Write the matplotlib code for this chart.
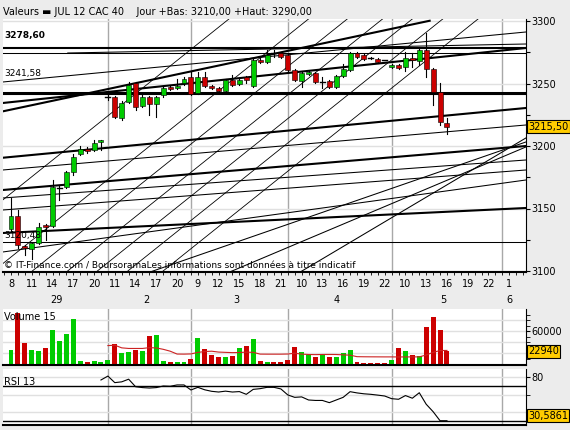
import matplotlib
matplotlib.use("Agg")
import matplotlib.pyplot as plt
from matplotlib.patches import Rectangle
from matplotlib.transforms import blended_transform_factory, IdentityTransform
import pandas as pd

# hourly candles, one slot per candle
opens = [3133.6, 3144.0, 3120.0, 3117.6, 3122.4, 3136.8, 3136.0, 3166.2, 3167.2, 3179.2,
         3193.6, 3197.6, 3196.8, 3203.2, 3239.0, 3239.2, 3222.4, 3235.2, 3250.4, 3232.0,
         3239.2, 3233.6, 3240.8, 3247.2, 3246.4, 3250.4, 3255.2, 3242.4, 3255.2, 3248.0,
         3246.4, 3244.0, 3252.8, 3249.6, 3255.2, 3248.0, 3268.8, 3267.2, 3274.4, 3274.4,
         3272.8, 3260.8, 3252.0, 3257.6, 3258.4, 3251.0, 3252.0, 3247.2, 3256.0, 3260.8,
         3274.4, 3272.8, 3270.6, 3269.6, 3268.9, 3263.2, 3264.8, 3263.2, 3270.4, 3268.0,
         3276.8, 3261.6, 3243.2, 3218.4]
highs = [3158.4, 3148.8, 3120.8, 3122.4, 3138.4, 3137.6, 3172.8, 3168.0, 3180.0, 3193.6,
         3200.0, 3199.2, 3204.8, 3204.8, 3240.8, 3240.0, 3236.0, 3251.2, 3251.2, 3240.8,
         3240.0, 3240.0, 3248.0, 3248.0, 3253.6, 3255.2, 3259.2, 3259.2, 3259.2, 3248.8,
         3247.2, 3253.6, 3256.8, 3253.6, 3256.0, 3269.6, 3271.2, 3276.8, 3276.8, 3275.2,
         3273.6, 3261.6, 3260.0, 3260.0, 3259.2, 3255.2, 3252.8, 3256.8, 3265.6, 3275.2,
         3275.2, 3273.6, 3271.2, 3270.4, 3269.0, 3265.6, 3265.6, 3275.2, 3274.4, 3277.6,
         3290.4, 3262.4, 3250.4, 3222.4]
lows = [3132.0, 3118.4, 3112.8, 3109.6, 3121.6, 3125.0, 3135.2, 3156.8, 3166.4, 3176.8,
        3192.8, 3194.4, 3196.0, 3196.8, 3236.8, 3222.4, 3220.8, 3234.4, 3228.8, 3231.2,
        3224.8, 3223.2, 3239.2, 3244.8, 3245.6, 3248.8, 3240.8, 3241.6, 3247.2, 3245.6,
        3243.2, 3243.2, 3248.0, 3248.8, 3250.4, 3247.2, 3266.4, 3266.4, 3271.2, 3270.4,
        3260.0, 3252.0, 3247.2, 3256.8, 3250.4, 3246.4, 3246.4, 3246.4, 3255.2, 3260.0,
        3270.4, 3268.8, 3269.6, 3266.4, 3268.6, 3262.4, 3261.6, 3260.0, 3263.2, 3264.8,
        3255.2, 3232.8, 3216.8, 3210.0]
closes = [3144.0, 3120.8, 3118.4, 3122.4, 3135.2, 3135.2, 3167.2, 3166.4, 3179.2, 3191.2,
          3197.6, 3196.0, 3202.4, 3204.8, 3239.2, 3223.2, 3234.4, 3248.8, 3231.2, 3239.2,
          3233.6, 3239.2, 3246.4, 3245.6, 3248.0, 3253.6, 3241.6, 3255.2, 3248.0, 3246.4,
          3244.0, 3252.8, 3248.8, 3252.8, 3252.8, 3268.8, 3267.2, 3272.8, 3274.2, 3271.2,
          3260.8, 3252.8, 3258.4, 3259.2, 3251.2, 3251.2, 3247.2, 3256.0, 3261.6, 3274.4,
          3271.2, 3269.6, 3270.4, 3267.2, 3268.8, 3264.8, 3262.4, 3270.4, 3268.8, 3276.8,
          3261.6, 3243.2, 3219.2, 3215.5]
volumes = [25500, 93000, 38000, 25500, 23600, 29600, 61800, 42400, 54500, 81800,
           5500, 4200, 5500, 3600, 7300, 36400, 20500, 21800, 25500, 23600,
           51500, 53300, 5500, 3600, 3600, 3600, 9100, 47300, 27300, 16400,
           12700, 12700, 14500, 29100, 33300, 45500, 5500, 4200, 3600, 3600,
           7300, 31500, 22400, 16400, 13300, 16400, 13300, 13300, 19400, 25500,
           4200, 2700, 2700, 2700, 2700, 7300, 29600, 23600, 16400, 14500,
           67800, 86000, 61800, 22940]
# RSI 13, from slot 13 onwards
rsi_start = 13
rsi = [76.6, 81.0, 73.6, 74.5, 77.5, 69.0, 68.0, 67.5, 68.0, 69.8,
       69.5, 71.0, 71.0, 65.3, 68.3, 65.5, 63.8, 63.0, 64.0, 63.0,
       63.5, 60.4, 66.0, 66.8, 68.3, 68.3, 66.5, 59.7, 57.0, 57.5,
       54.0, 53.5, 53.5, 51.0, 54.0, 57.0, 63.4, 62.0, 61.0, 60.4,
       59.5, 58.5, 55.5, 54.8, 59.0, 56.0, 62.2, 49.2, 40.8, 30.6, 30.59]

hour_ticks = list(range(0, 73, 3))
hour_labels = ["8", "11", "14", "17", "20", "11", "14", "17", "20", "9", "12", "15", "18",
               "21", "10", "13", "16", "19", "22", "10", "13", "16", "19", "22", "1"]
day_pos = [6.5, 19.5, 32.5, 47, 62.5, 72]
day_labels = ["29", "2", "3", "4", "5", "6"]
day_starts = [14, 26, 40, 55, 71]

h_levels = [3278.6, 3274.2, 3243.4, 3241.58, 3123.2]
h_thick = [True, False, False, True, False]
# drawn lines: (slot0, price0, slot1, price1, thick)
trend_lines = [
    (-1.2, 3227.7, 60.5, 3300.2, True),
    (-1.2, 3234.4, 74.4, 3278.4, True),
    (-1.2, 3190.6, 74.4, 3230.4, True),
    (-1.2, 3164.8, 74.4, 3200.0, True),
    (-1.2, 3130.4, 74.4, 3150.4, True),
    (-1.2, 3251.2, 74.4, 3291.2, False),
    (8.2, 3274.4, 74.4, 3281.6, False),
    (-1.2, 3180.8, 74.4, 3216.8, False),
    (-1.2, 3158.4, 74.4, 3188.8, False),
    (-1.2, 3148.8, 74.4, 3180.8, False),
    (-1.2, 3115.2, 74.4, 3172.8, False),
    (20.1, 3099.2, 74.4, 3203.2, False),
    (31.6, 3099.2, 74.4, 3199.2, False),
    (41.8, 3099.2, 74.4, 3206.4, False),
]
# steep parallel lines: slot where each leaves the bottom edge (price 3099.2)
steep_start = [-14.2, -2.7, 2.9, 8.0, 12.3, 16.7, 21.8]
steep_rise = 4.43  # points per slot

W, H = 570, 430
fig = plt.figure(figsize=(W / 100, H / 100), dpi=100)
fig.patch.set_facecolor("#ececec")


def box(x0, y0, x1, y1):
    return [x0 / W, 1 - y1 / H, (x1 - x0) / W, (y1 - y0) / H]


def px2s(px):
    return (px - 11) / 6.92


xl = (px2s(2.5), px2s(526))
green, red = "#00cc00", "#cc0000"
grid = "#a8a8a8"

ax = fig.add_axes(box(2.5, 19, 526, 272))
axv = fig.add_axes(box(2.5, 309, 526, 365))
axr = fig.add_axes(box(2.5, 369, 526, 425))
for a in (ax, axv, axr):
    a.set_xlim(*xl)
    a.set_facecolor("white")
    for sp in a.spines.values():
        sp.set_visible(False)
    a.spines["bottom"].set_visible(True)
    a.spines["right"].set_visible(True)
    a.spines["bottom"].set_linewidth(1.5)
    a.spines["right"].set_linewidth(0.8)
    a.yaxis.tick_right()
    a.tick_params(axis="y", direction="out", length=3, width=0.8, labelsize=7, pad=1)
    for d in day_starts:
        a.axvline(d, color=grid, lw=1, zorder=0)

# main price panel
ax.set_ylim(3099.2, 3301.6)
for p in (3300, 3250, 3200, 3150, 3100):
    ax.axhline(p, color="#e0e0e0", lw=1, zorder=0)
ax.set_yticks([3100, 3150, 3200, 3250, 3300])
ax.set_yticklabels(["3100", "3150", "3200", "3250", "3300"])
ax.set_yticks([3125, 3175, 3225, 3275], minor=True)
ax.tick_params(axis="y", which="minor", direction="out", length=3, width=0.8)
ax.set_xticks(hour_ticks)
ax.set_xticklabels(hour_labels, fontsize=7)
ax.set_xticks(range(-1, 75), minor=True)
ax.tick_params(axis="x", which="both", direction="out", length=2, width=0.6, pad=3)

for lv, thick in zip(h_levels, h_thick):
    ax.axhline(lv, color="black", lw=1.5 if thick else 0.75, zorder=1)
for s0, p0, s1, p1, thick in trend_lines:
    ax.plot([s0, s1], [p0, p1], color="black", lw=1.5 if thick else 0.75, zorder=1)
for s0 in steep_start:
    ax.plot([s0, s0 + 60], [3099.2, 3099.2 + 60 * steep_rise], color="black", lw=0.6, zorder=1)

body_w = 0.72
for i, (o, h, l, c) in enumerate(zip(opens, highs, lows, closes)):
    ax.plot([i, i], [l, h], color="black", lw=0.8, zorder=2)
    if abs(c - o) < 0.5:
        ax.plot([i - body_w / 2, i + body_w / 2], [c, c], color="black", lw=1, zorder=3)
        continue
    col = green if c > o else red
    ax.add_patch(Rectangle((i - body_w / 2, min(o, c)), body_w, abs(c - o),
                           facecolor=col, edgecolor="black", lw=0.4, zorder=3))

ax.text(0.003, 0.925, "3278,60", transform=ax.transAxes, fontsize=6.5, fontweight="bold")
ax.text(0.003, 0.775, "3241,58", transform=ax.transAxes, fontsize=6.5)
ax.text(0.003, 0.135, "3120,48", transform=ax.transAxes, fontsize=6.5)
ax.text(0.003, 0.012, "\u00a9 IT-Finance.com / BoursoramaLes informations sont donn\u00e9es \u00e0 titre indicatif",
        transform=ax.transAxes, fontsize=6.5)
yellow = dict(boxstyle="square,pad=0.15", fc="#ffcc00", ec="black", lw=0.8)
ax.text(528, 3215.5, "3215,50", fontsize=7, va="center", ha="left",
        transform=blended_transform_factory(IdentityTransform(), ax.transData), bbox=yellow)

for pos, lab in zip(day_pos, day_labels):
    ax.text(pos, -0.11, lab, transform=ax.get_xaxis_transform(), ha="center", va="center", fontsize=7)

# header
fig.text(3 / W, 1 - 12 / H, "Valeurs \u25ac JUL 12 CAC 40    Jour +Bas: 3210,00 +Haut: 3290,00",
         fontsize=7, va="center")

# volume panel
vol = pd.Series(volumes)
vol_ma = vol.rolling(15).mean()
vcols = [green if c >= o else red for o, c in zip(opens, closes)]
axv.set_ylim(-1818, 100000)
for g in (20000, 40000, 60000, 80000):
    axv.axhline(g, color="#e0e0e0", lw=1, zorder=0)
axv.bar(range(len(volumes)), volumes, width=0.72, color=vcols, zorder=2)
axv.plot(range(len(volumes)), vol_ma, color="#cc2222", lw=0.8, zorder=3)
axv.set_yticks([60000])
axv.set_yticklabels(["60000"])
axv.set_yticks(range(10000, 100000, 10000), minor=True)
axv.tick_params(axis="y", which="minor", direction="out", length=3)
axv.set_xticks([])
axv.text(0.003, 0.8, "Volume 15", transform=axv.transAxes, fontsize=7)
axv.text(528, 22940, "22940", fontsize=7, va="center", ha="left",
         transform=blended_transform_factory(IdentityTransform(), axv.transData), bbox=yellow)

# RSI panel
axr.set_ylim(25.76, 89.0)
for g in (40, 60, 80):
    axr.axhline(g, color="#e0e0e0", lw=1, zorder=0)
axr.axhline(70, color="black", lw=1, zorder=1)
axr.axhline(30, color="black", lw=1, zorder=1)
axr.plot(range(rsi_start, rsi_start + len(rsi)), rsi, color="black", lw=0.8, zorder=2)
axr.set_yticks([80])
axr.set_yticklabels(["80"])
axr.set_yticks([40, 60], minor=True)
axr.tick_params(axis="y", which="minor", direction="out", length=3)
axr.set_xticks([])
axr.text(0.003, 0.72, "RSI 13", transform=axr.transAxes, fontsize=7)
axr.text(528, 36.4, "30,5861", fontsize=7, va="center", ha="left",
         transform=blended_transform_factory(IdentityTransform(), axr.transData), bbox=yellow)

fig.savefig("out.png", dpi=100, facecolor=fig.get_facecolor())
